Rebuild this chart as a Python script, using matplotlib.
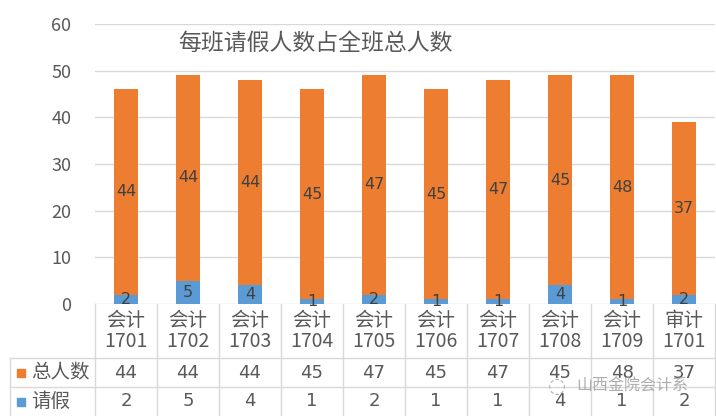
import matplotlib
matplotlib.use('Agg')
import matplotlib.pyplot as plt
import matplotlib.transforms as mtransforms

plt.rcParams['font.family'] = ['Noto Sans CJK SC', 'DejaVu Sans']

# data
classes = ['会计\n1701', '会计\n1702', '会计\n1703', '会计\n1704', '会计\n1705',
           '会计\n1706', '会计\n1707', '会计\n1708', '会计\n1709', '审计\n1701']
leave = [2, 5, 4, 1, 2, 1, 1, 4, 1, 2]
total = [44, 44, 44, 45, 47, 45, 47, 45, 48, 37]
series_names = ['总人数', '请假']

blue = '#5B9BD5'
orange = '#ED7D31'
txt = '#404040'
grid = '#D9D9D9'

W, H = 716, 416
fig = plt.figure(figsize=(W / 100, H / 100), dpi=100)
ax = fig.add_axes([95 / W, 1 - 304 / H, 620 / W, 280 / H])

x = list(range(len(classes)))
ax.bar(x, leave, width=0.4, color=blue, zorder=3)
ax.bar(x, total, width=0.4, bottom=leave, color=orange, zorder=3)

for i in x:
    ax.text(i, leave[i] / 2, str(leave[i]), ha='center', va='center',
            fontsize=11.5, color=txt, zorder=4, family=['DejaVu Sans'])
    ax.text(i, leave[i] + total[i] / 2, str(total[i]), ha='center', va='center',
            fontsize=11.5, color=txt, zorder=4, family=['DejaVu Sans'])

ax.set_xlim(-0.5, len(classes) - 0.5)
ax.set_ylim(0, 60)
ax.set_yticks(range(0, 61, 10))
ax.yaxis.grid(True, color=grid, linewidth=1)
ax.set_axisbelow(True)
for s in ax.spines.values():
    s.set_visible(False)
ax.tick_params(axis='both', length=0)
ax.tick_params(axis='y', labelsize=13, labelcolor='#595959', pad=17)
ax.set_xticks([])

ax.text(0.134, 0.93, '每班请假人数占全班总人数', transform=ax.transAxes,
        fontsize=16.5, color='#595959', ha='left', va='center')

# data table below the axes
tr = mtransforms.blended_transform_factory(ax.transData, fig.transFigure)
y_top = 1 - 304 / H
y_r1 = 1 - 358 / H
y_r2 = 1 - 387 / H
y_bot = 0.0
x_left_fig = 10 / W

lk = dict(color=grid, linewidth=1, clip_on=False)
for b in [i - 0.5 for i in range(len(classes) + 1)]:
    fig.add_artist(plt.Line2D([b, b], [y_bot, y_top], transform=tr, **lk))
for yy in (y_r1, y_r2):
    fig.add_artist(plt.Line2D([x_left_fig, 1.0], [yy, yy], transform=fig.transFigure, **lk))
fig.add_artist(plt.Line2D([x_left_fig, x_left_fig], [y_bot, y_r1], transform=fig.transFigure, **lk))

for i, c in enumerate(classes):
    fig.text(i, (y_top + y_r1) / 2, c, transform=tr, ha='center', va='center',
             fontsize=14, color='#595959', linespacing=1.05)
    fig.text(i, (y_r1 + y_r2) / 2, str(total[i]), transform=tr, ha='center',
             va='center', fontsize=13, color='#595959', family=['DejaVu Sans'])
    fig.text(i, (y_r2 + y_bot) / 2, str(leave[i]), transform=tr, ha='center',
             va='center', fontsize=13, color='#595959', family=['DejaVu Sans'])

for name, col, yc in [(series_names[0], orange, (y_r1 + y_r2) / 2),
                      (series_names[1], blue, (y_r2 + y_bot) / 2)]:
    fig.add_artist(plt.Rectangle((17 / W, yc - 4 / H), 8 / W, 8 / H,
                                 transform=fig.transFigure, color=col))
    fig.text(31 / W, yc, name, ha='left', va='center', fontsize=14, color='#595959')

# watermark
fig.text(576 / W, 1 - 386 / H, '山西金院会计系', ha='left', va='center',
         fontsize=11.5, color='#9a9a9a', alpha=0.8)
fig.text(557 / W, 1 - 386 / H, '◌', ha='center', va='center',
         fontsize=15, color='#b0b0b0', family=['DejaVu Sans'])

fig.savefig('out.png', dpi=100)
